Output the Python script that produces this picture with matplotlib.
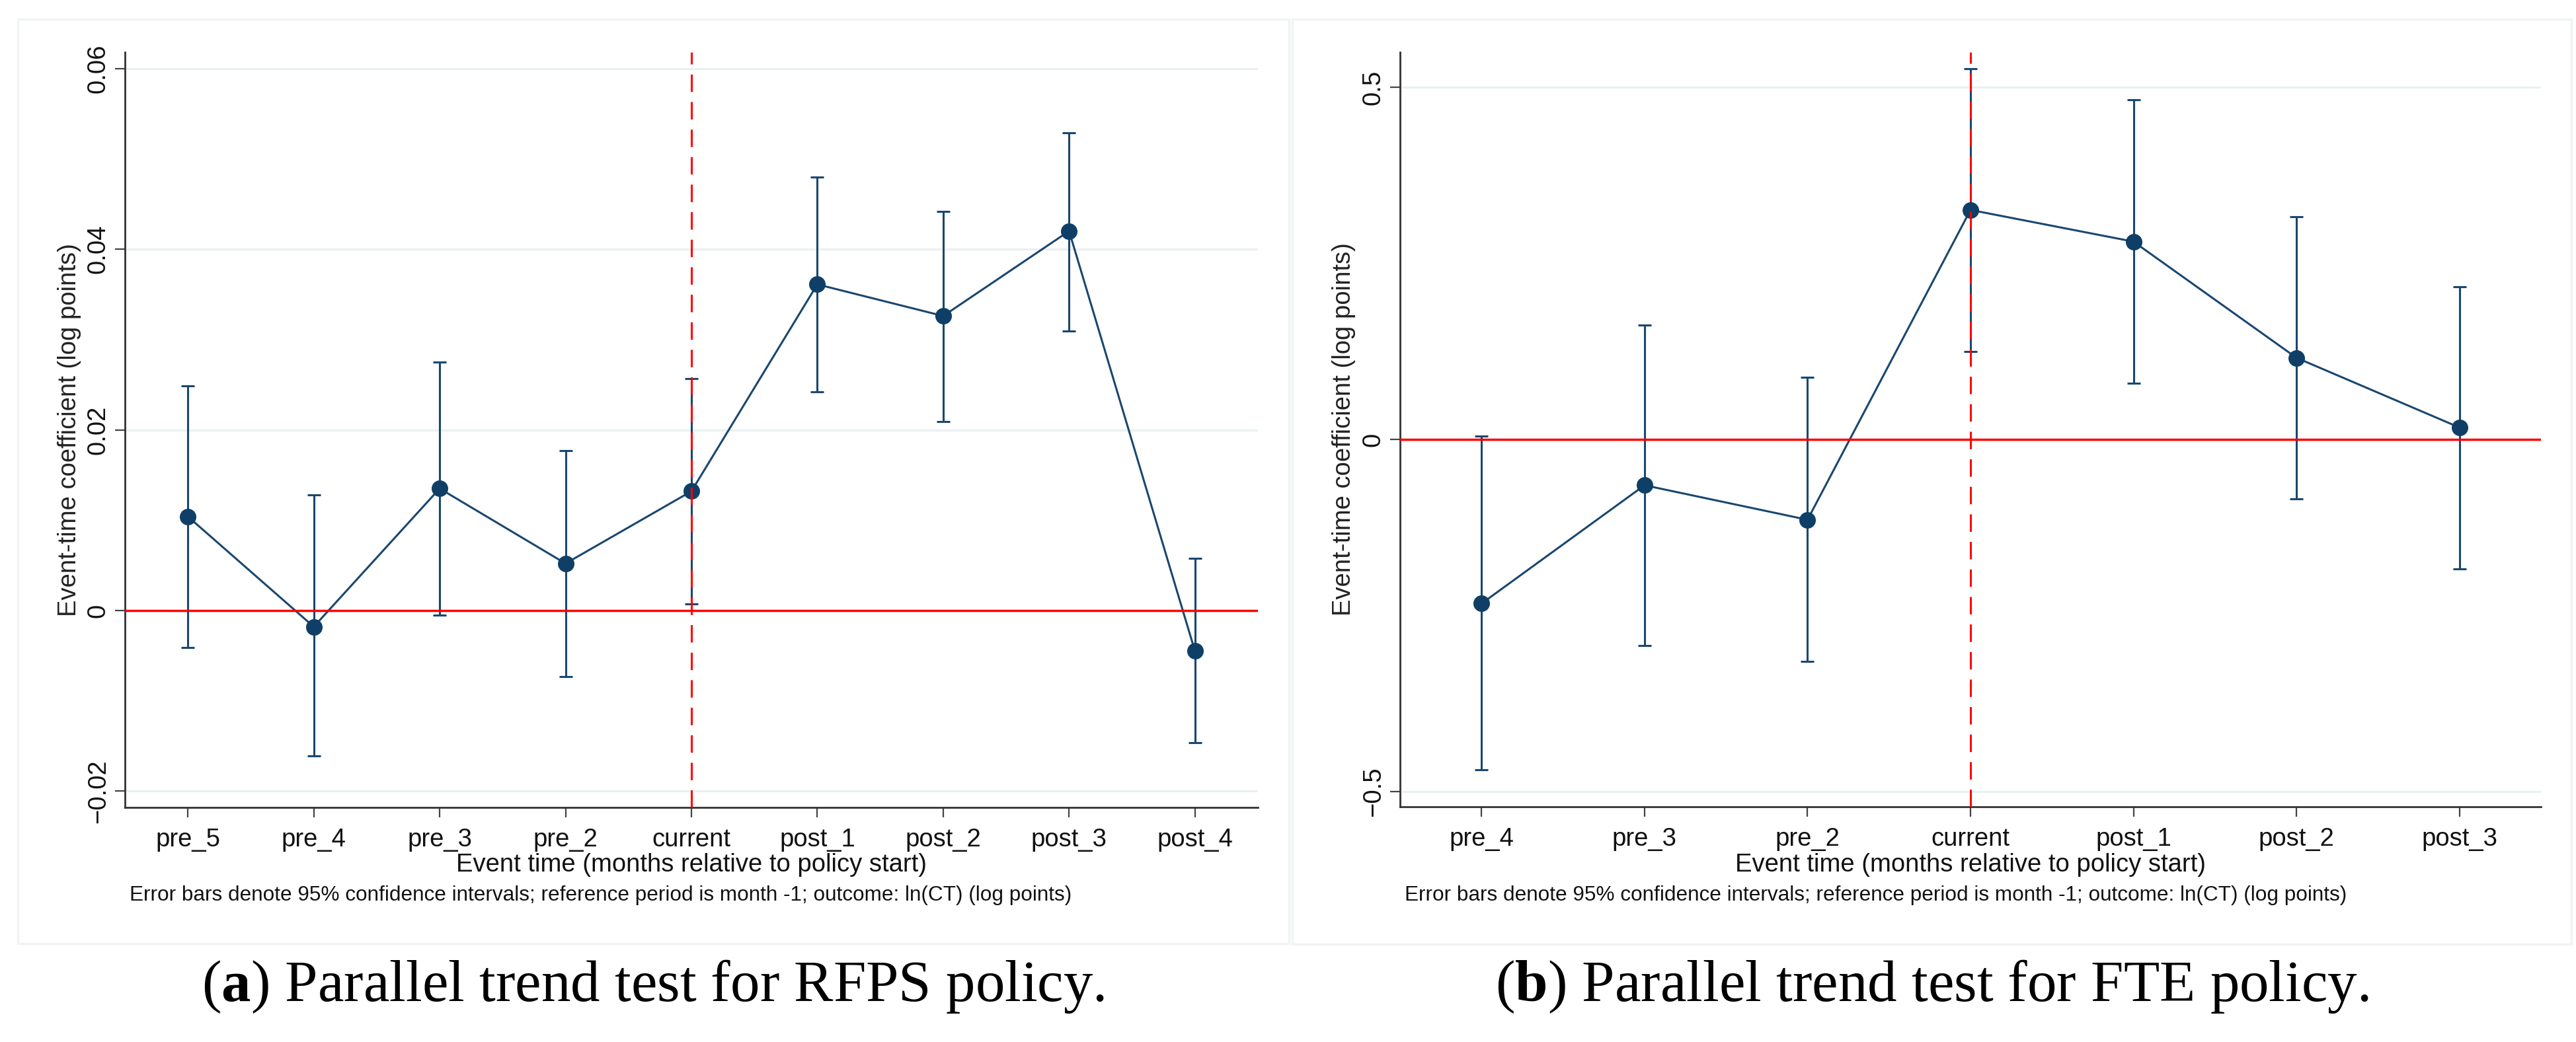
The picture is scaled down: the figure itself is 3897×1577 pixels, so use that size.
import numpy as np
import matplotlib
matplotlib.use("Agg")
import matplotlib.pyplot as plt
from matplotlib.patches import Rectangle

plt.rcParams['font.family'] = ['Liberation Sans', 'DejaVu Sans']
plt.rcParams['lines.scale_dashes'] = False
plt.rcParams['mathtext.fontset'] = 'custom'
plt.rcParams['mathtext.rm'] = 'Liberation Serif'
plt.rcParams['mathtext.bf'] = 'Liberation Serif:bold'

# panel (a) RFPS policy
labels_a = ['pre_5', 'pre_4', 'pre_3', 'pre_2', 'current', 'post_1', 'post_2', 'post_3', 'post_4']
coef_a = [0.0104, -0.0018, 0.0135, 0.0052, 0.0132, 0.0361, 0.0326, 0.0420, -0.0045]
lo_a = [-0.0041, -0.0161, -0.0005, -0.0073, 0.0007, 0.0242, 0.0209, 0.0309, -0.0146]
hi_a = [0.0249, 0.0128, 0.0275, 0.0177, 0.0257, 0.0480, 0.0442, 0.0529, 0.0058]
yticks_a = [-0.02, 0, 0.02, 0.04, 0.06]
yticklabels_a = ['\u22120.02', '0', '0.02', '0.04', '0.06']

# panel (b) FTE policy
labels_b = ['pre_4', 'pre_3', 'pre_2', 'current', 'post_1', 'post_2', 'post_3']
coef_b = [-0.233, -0.065, -0.114, 0.326, 0.281, 0.116, 0.017]
lo_b = [-0.469, -0.293, -0.315, 0.125, 0.080, -0.084, -0.184]
hi_b = [0.005, 0.162, 0.088, 0.527, 0.482, 0.316, 0.217]
yticks_b = [-0.5, 0, 0.5]
yticklabels_b = ['\u22120.5', '0', '0.5']

xlabel = 'Event time (months relative to policy start)'
ylabel = 'Event-time coefficient (log points)'
note = 'Error bars denote 95% confidence intervals; reference period is month -1; outcome: ln(CT) (log points)'
caption_a = r'($\mathbf{a}$) Parallel trend test for RFPS policy.'
caption_b = r'($\mathbf{b}$) Parallel trend test for FTE policy.'

W, H = 3897, 1577
fig = plt.figure(figsize=(W / 100, H / 100), dpi=100)
fig.patch.set_facecolor('white')

navy = '#1a476f'
dot = '#0f3f66'


def px(x, y):
    return x / W, 1 - y / H


def panel(box, ax_box, labels, coef, lo, hi, yticks, yticklabels, ylim, ylab_x, caption):
    # light frame around the panel
    bx0, by0, bx1, by1 = box
    fig.patches.append(Rectangle(px(bx0, by1), (bx1 - bx0) / W, (by1 - by0) / H,
                                 transform=fig.transFigure, fill=False,
                                 edgecolor='#f1f3f4', linewidth=2.5))
    x0, y0, x1, y1 = ax_box
    ax = fig.add_axes([x0 / W, 1 - y1 / H, (x1 - x0) / W, (y1 - y0) / H])
    n = len(labels)
    x = np.arange(1, n + 1)
    coef = np.array(coef)
    err = [coef - np.array(lo), np.array(hi) - coef]

    for t in yticks:
        ax.axhline(t, color='#e9f0f2', linewidth=2.2, zorder=0)

    ax.errorbar(x, coef, yerr=err, fmt='none', ecolor=navy, elinewidth=2.2,
                capsize=7, capthick=2.2, zorder=3)
    ax.plot(x, coef, color=navy, linewidth=2.2, zorder=4)
    ax.plot(x, coef, 'o', color=dot, markersize=17, zorder=5)

    ax.axhline(0, color='#ff0000', linewidth=2.5, zorder=6)
    cur = labels.index('current') + 1
    ax.axvline(cur, color='#ff0000', linewidth=2.2, dashes=(19, 11), zorder=6)

    ax.set_xlim(0.5, n + 0.5)
    ax.set_ylim(*ylim)
    ax.set_xticks(x)
    ax.set_xticklabels(labels)
    ax.set_yticks(yticks)
    ax.set_yticklabels(yticklabels, rotation=90, va='center')
    for s in ['top', 'right']:
        ax.spines[s].set_visible(False)
    for s in ['left', 'bottom']:
        ax.spines[s].set_color('#333333')
        ax.spines[s].set_linewidth(2)
    ax.tick_params(axis='both', length=11, width=1.6, color='#444444',
                   labelsize=27.5, labelcolor='#111111')
    ax.tick_params(axis='x', pad=11)
    ax.tick_params(axis='y', pad=5)

    cx = (x0 + x1) / 2
    fig.text(*px(cx, 1309), xlabel, ha='center', va='center', fontsize=27.5, color='#111111')
    fig.text(*px(x0 + 7, 1355), note, ha='left', va='center', fontsize=22.7, color='#111111')
    fig.text(*px(ylab_x, (y0 + y1) / 2), ylabel, ha='center', va='center', rotation=90,
             fontsize=27.5, color='#222222')
    fig.text(*px((bx0 + bx1) / 2, 1493), caption, ha='center', va='center',
             fontsize=64, family='Liberation Serif')
    return ax


panel((27, 29, 1950, 1428), (189, 79, 1903, 1222), labels_a, coef_a, lo_a, hi_a,
      yticks_a, yticklabels_a, (-0.0218, 0.0618), 105, caption_a)
panel((1955, 29, 3890, 1429), (2118, 79, 3844, 1221), labels_b, coef_b, lo_b, hi_b,
      yticks_b, yticklabels_b, (-0.5216, 0.55), 2033, caption_b)

fig.savefig('out.png', dpi=100, facecolor='white')
